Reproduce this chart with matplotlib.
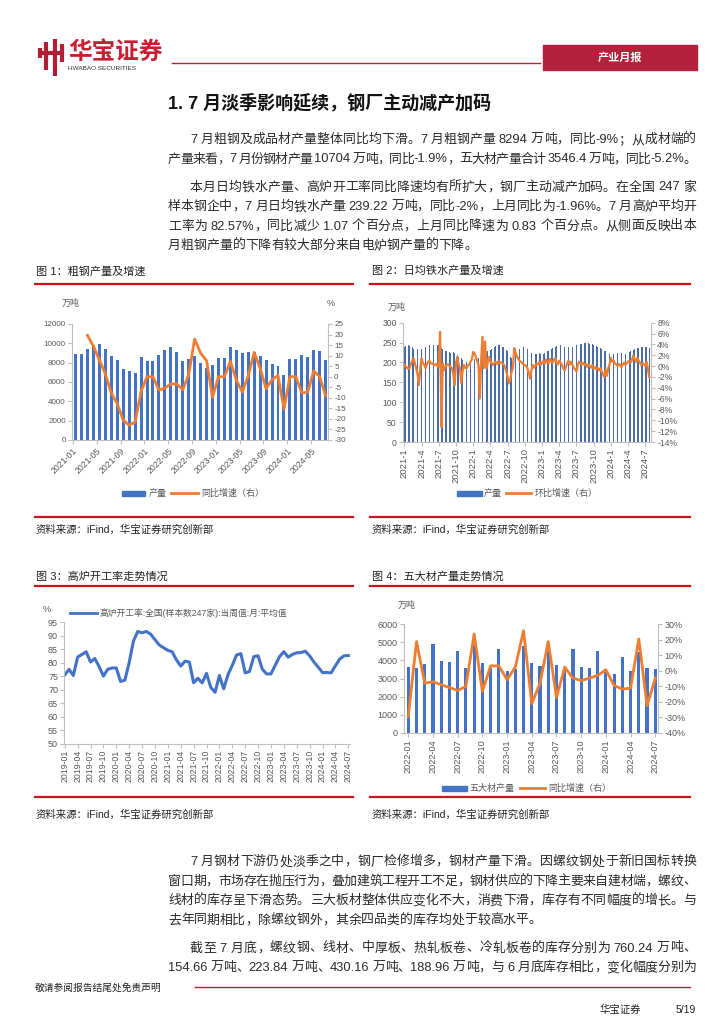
import numpy as np
import matplotlib.pyplot as plt
from matplotlib.lines import Line2D
from matplotlib.patches import Rectangle
from matplotlib.font_manager import FontProperties

plt.rcParams['font.family'] = ['Liberation Sans', 'Noto Sans CJK SC', 'DejaVu Sans']
plt.rcParams['axes.unicode_minus'] = False

# ---- data ----
# fig 1: crude steel output (万吨) 2021-01..2024-07 and yoy (%) from 2021-03
steel_prod = [8900, 8900, 9402, 9785, 9945, 9388, 8679, 8324, 7375, 7158, 6931, 8618,
              8205, 8205, 8830, 9278, 9661, 9073, 8143, 8370, 8695, 7950, 7450, 7790,
              8436, 8436, 9573, 9264, 9012, 9111, 9080, 8641, 8255, 7909, 7610, 6744,
              8398, 8398, 8827, 8594, 9286, 9161, 8294]
steel_yoy = [19.6, 14.4, 8.0, 1.3, -7.7, -12.8, -20.6, -23.0, -21.5, -7.0,
             0, 0, -6.3, -5.4, -3.4, -3.4, -6.2, 1.0, 17.8, 11.2, 7.6, -9.8,
             0, 0, 7.3, -1.5, -7.3, 0.4, 11.5, 4.0, -5.7, -1.4, 0.6, -15.3,
             0, 0, -7.7, -7.3, 2.8, 0, -9.0]
steel_labels = ['2021-01', '2021-05', '2021-09', '2022-01', '2022-05', '2022-09',
                '2023-01', '2023-05', '2023-09', '2024-01', '2024-05']

# fig 2: weekly daily hot metal output (万吨) and wow change (%)
iron_prod = [240, 242, 243, 244, 242, 240, 238, 235, 233, 232, 234, 236, 235,
             234, 236, 238, 240, 241, 242, 243, 244, 245, 244, 243, 242, 243,
             244, 243, 236, 233, 231, 230, 229, 228, 226, 225, 226, 227, 225,
             222, 218, 215, 212, 210, 206, 203, 201, 200, 199, 200, 201, 203,
             205, 208, 210, 209, 212, 208, 214, 218, 220, 222, 225, 228, 230,
             232, 235, 238, 240, 241, 242, 243, 244, 242, 240, 238, 236, 232,
             228, 222, 215, 210, 208, 212, 218, 225, 230, 235, 238, 239, 240,
             238, 236, 233, 230, 228, 225, 224, 223, 222, 221, 222, 223, 221,
             220, 221, 223, 226, 228, 230, 232, 234, 236, 238, 240, 242, 243,
             244, 245, 244, 242, 240, 239, 238, 239, 240, 241, 240, 241, 242,
             243, 244, 245, 246, 246, 247, 248, 248, 247, 248, 247, 246, 246,
             245, 243, 241, 240, 238, 236, 234, 232, 230, 228, 226, 224, 222,
             222, 221, 222, 223, 224, 223, 222, 224, 223, 222, 221, 222, 223,
             224, 226, 228, 230, 232, 234, 235, 236, 237, 238, 238, 239, 239,
             240, 239, 238, 236]
iron_wow = [0.2, 0.0, -0.3, -0.5, -0.4, 0.3, 1.0, 1.4, 0.5, -0.4, -1.5, -3.5, -0.5,
            1.4, 0.6, 0.2, -0.4, 0.3, 0.8, 1.0, 0.5, 0.5, 0.3, 0.2, 0.4, 0.0,
            -0.1, 6.3, -11.2, 0.5, -0.8, -0.1, 0.2, 0.3, 0.1, -0.2, -0.4, -1.5, -3.5,
            0.5, 1.7, 0.3, -0.4, -3.2, -1.0, 0.2, -0.3, -0.4, 0.1, 0.3, 0.8, 1.2,
            2.6, 2.4, 1.7, 0.9, 0.2, -6.0, 1.0, 5.4, -0.4, 4.5, -0.4, 0.6, 1.7,
            0.9, 0.5, 0.2, 0.6, 0.8, 0.4, 0.9, 0.5, 0.7, 0.5, 0.3, -0.2, -1.0,
            -2.0, -3.2, -2.5, -1.0, -0.4, 3.3, 2.5, 1.8, 1.4, 1.0, 0.8, 0.6, 0.3,
            0.2, 0.0, -0.4, -1.2, -2.3, -0.8, 0.2, -0.3, 0.1, 0.4, 0.3, 0.8, 0.2,
            0.6, 1.0, 0.4, 1.2, 0.8, 0.5, 1.3, 0.9, 0.6, 1.1, 1.5, 0.7, 0.3,
            1.0, 0.6, 0.2, -0.4, -0.8, -0.2, 0.5, 1.0, 0.3, 0.8, 0.2, -0.3, -0.6,
            -1.0, 0.2, 0.8, 0.5, 0.3, 0.6, 0.2, 0.4, -0.1, 0.3, 0.0, -0.3, 0.2,
            -0.5, -0.2, -0.6, -0.3, -0.8, -0.4, -1.0, -1.5, -2.0, -0.6, -1.8, -0.4, 0.3,
            1.5, 0.8, 1.0, 0.5, 0.3, 0.0, 0.4, 0.2, -0.2, 0.3, 0.6, 0.2, 0.5,
            0.8, 1.0, 0.7, 1.2, 2.0, 1.2, 0.8, 1.5, 1.0, 0.6, 0.2, 0.5, 0.3,
            0.0, 0.8, -0.6, -2.0]
iron_labels = ['2021-1', '2021-4', '2021-7', '2021-10', '2022-1', '2022-4', '2022-7',
               '2022-10', '2023-1', '2023-4', '2023-7', '2023-10', '2024-1', '2024-4',
               '2024-7']

# fig 3: blast furnace utilisation (%) monthly 2019-01..2024-07
bf_rate = [75.4, 77.5, 75.2, 82.0, 83.0, 84.0, 80.2, 81.5, 78.5, 75.0, 77.5, 78.0,
           78.0, 73.0, 73.5, 80.0, 88.0, 91.5, 91.0, 91.5, 90.5, 88.5, 86.5, 85.5,
           84.5, 84.0, 81.0, 78.7, 80.5, 80.2, 72.5, 74.2, 72.5, 76.0, 70.8, 69.0,
           75.2, 70.3, 75.5, 79.0, 82.8, 83.3, 76.2, 76.7, 82.2, 82.5, 77.5, 75.8,
           75.8, 79.0, 82.2, 84.0, 82.0, 83.0, 83.6, 83.7, 84.2, 82.5, 80.2, 78.3,
           76.3, 76.3, 76.2, 78.8, 81.3, 82.5, 82.6]
bf_labels = ['2019-01', '2019-04', '2019-07', '2019-10', '2020-01', '2020-04', '2020-07',
             '2020-10', '2021-01', '2021-04', '2021-07', '2021-10', '2022-01', '2022-04',
             '2022-07', '2022-10', '2023-01', '2023-04', '2023-07', '2023-10', '2024-01',
             '2024-04', '2024-07']

# fig 4: five major products output (万吨) monthly 2022-01..2024-07 and yoy (%)
five_prod = [3660, 3560, 3780, 4900, 3970, 3930, 4530, 3600, 4840, 3840, 3600, 4630,
             3420, 3530, 4790, 3840, 3690, 4520, 3750, 3530, 4610, 3620, 3570, 4520,
             3510, 3250, 4190, 3420, 4440, 3570, 3546]
five_yoy = [-29.3, 18.7, -8.0, -7.1, -9.0, -10.8, -12.7, -10.1, 23.6, -13.3, 3.1, 3.1,
            -5.8, 2.3, 25.7, -21.2, -8.0, 18.7, -17.2, 2.3, -4.8, -6.3, -4.8, -3.0,
            0.5, -9.5, -11.8, -11.2, 20.4, -22.5, -4.8]
five_labels = ['2022-01', '2022-04', '2022-07', '2022-10', '2023-01', '2023-04',
               '2023-07', '2023-10', '2024-01', '2024-04', '2024-07']

para1 = ['7 月粗钢及成品材产量整体同比均下滑。7 月粗钢产量 8294 万吨，同比-9%；从成材端的',
         '产量来看，7 月份钢材产量 10704 万吨，同比-1.9%，五大材产量合计 3546.4 万吨，同比-5.2%。']
para2 = ['本月日均铁水产量、高炉开工率同比降速均有所扩大，钢厂主动减产加码。在全国 247 家',
         '样本钢企中，7 月日均铁水产量 239.22 万吨，同比-2%，上月同比为-1.96%。7 月高炉平均开',
         '工率为 82.57%，同比减少 1.07 个百分点，上月同比降速为 0.83 个百分点。从侧面反映出本',
         '月粗钢产量的下降有较大部分来自电炉钢产量的下降。']
para3 = ['7 月钢材下游仍处淡季之中，钢厂检修增多，钢材产量下滑。因螺纹钢处于新旧国标转换',
         '窗口期，市场存在抛压行为，叠加建筑工程开工不足，钢材供应的下降主要来自建材端，螺纹、',
         '线材的库存呈下滑态势。三大板材整体供应变化不大，消费下滑，库存有不同幅度的增长。与',
         '去年同期相比，除螺纹钢外，其余四品类的库存均处于较高水平。']
para4 = ['截至 7 月底，螺纹钢、线材、中厚板、热轧板卷、冷轧板卷的库存分别为 760.24 万吨、',
         '154.66 万吨、223.84 万吨、430.16 万吨、188.96 万吨，与 6 月底库存相比，变化幅度分别为']

BLUE = '#4472C4'
ORANGE = '#ED7D31'
RED = '#D0121B'
DARKRED = '#B01F35'
GREY = '#595959'

W, H = 724, 1024
fig = plt.figure(figsize=(W / 100, H / 100), dpi=100)
renderer = fig.canvas.get_renderer()


def fx(x):
    return x / W


def fy(y):
    return 1 - y / H


def ax_px(x0, y0, x1, y1):
    return fig.add_axes([fx(x0), fy(y1), (x1 - x0) / W, (y1 - y0) / H])


def hline(x0, x1, y, color, lw):
    fig.add_artist(Line2D([fx(x0), fx(x1)], [fy(y), fy(y)], color=color, lw=lw))


def txt(x, y, s, size=7, color=GREY, **kw):
    fig.text(fx(x), fy(y), s, fontsize=size, color=color, va='center', **kw)


# ---- header ----
for xs, ys in [([46, 46], [42, 70]), ([55, 55], [39, 76]), ([40, 64], [53, 53]),
               ([40, 40], [48, 58]), ([62, 62], [44, 62])]:
    fig.add_artist(Line2D([fx(v) for v in xs], [fy(v) for v in ys], color=DARKRED, lw=3,
                          solid_capstyle='butt'))
txt(68, 52, '华宝证券', size=17, color='#C81E32', weight='bold')
txt(68, 68, 'HWABAO SECURITIES', size=4.6, color='#333333')
hline(172, 540, 63, DARKRED, 1.0)
fig.add_artist(Rectangle((fx(543), fy(70)), 154 / W, 25 / H, color='#B4213A'))
txt(620, 57.5, '产业月报', size=8, color='white', ha='center', weight='bold')

txt(168, 103, '1. 7 月淡季影响延续，钢厂主动减产加码', size=13, color='#111111', weight='bold')

# ---- body text, justified ----
body_fp = FontProperties(family=['Liberation Sans', 'Noto Sans CJK SC'], size=9.3)
space_w = 3.4


def tokens(s):
    out, buf = [], ''
    for ch in s:
        if ch == ' ':
            if buf:
                out.append(buf)
                buf = ''
            out.append(None)
        elif ord(ch) < 128:
            buf += ch
        else:
            if buf:
                out.append(buf)
                buf = ''
            out.append(ch)
    if buf:
        out.append(buf)
    return out


def body_line(s, x0, y, x1=None):
    toks = tokens(s)
    widths = [space_w if t is None else
              renderer.get_text_width_height_descent(t, body_fp, ismath=False)[0] for t in toks]
    extra = 0
    if len(toks) > 1 and (x1 is not None or x0 + sum(widths) > 696):
        extra = (696 - x0 - sum(widths)) / (len(toks) - 1)
    x = x0
    for t, w in zip(toks, widths):
        if t is not None:
            fig.text(fx(x), fy(y), t, fontproperties=body_fp, va='center', ha='left',
                     color='#2A2A2A')
        x += w + extra


def paragraph(lines, y0, step=19.5):
    for i, s in enumerate(lines):
        x0 = 190 if i == 0 else 168
        x1 = 696 if i < len(lines) - 1 else None
        body_line(s, x0, y0 + i * step, x1)


paragraph(para1, 140)
paragraph(para2, 187.5)
paragraph(para3, 862)
paragraph(para4, 948.5)

# ---- captions and rules ----
for x, y, s in [(36, 271, '图 1：粗钢产量及增速'), (372, 271, '图 2：日均铁水产量及增速'),
                (36, 577, '图 3：高炉开工率走势情况'), (372, 577, '图 4：五大材产量走势情况')]:
    txt(x, y, s, size=8, color='#222222')
for y in [284, 586, 517, 797]:
    hline(35, 353, y, RED, 1.6)
    hline(370, 690, y, RED, 1.6)
for x, y in [(36, 530), (372, 530), (36, 815), (372, 815)]:
    txt(x, y, '资料来源：iFind，华宝证券研究创新部', size=7.5, color='#222222')


def style(ax, sides):
    for s in ['top', 'right', 'left', 'bottom']:
        ax.spines[s].set_visible(s in sides)
        ax.spines[s].set_color('#BFBFBF')
        ax.spines[s].set_linewidth(0.8)
    ax.tick_params(colors='#BFBFBF', labelcolor=GREY, length=3, width=0.8, pad=1.5)
    ax.patch.set_alpha(0)


# ---- fig 1 ----
ax1 = ax_px(72, 324, 328, 440)
x1 = np.arange(len(steel_prod))
ax1.bar(x1, steel_prod, width=0.5, color=BLUE)
ax1.set_xlim(-0.6, 42.4)
ax1.set_ylim(0, 12000)
ax1.set_yticks(range(0, 12001, 2000))
ax1.set_xticks(np.arange(0, 41, 4) - 0.45)
ax1.set_xticklabels(steel_labels, rotation=45, ha='right', rotation_mode='anchor', fontsize=6.3)
ax1.tick_params(axis='y', labelsize=5.8)
style(ax1, ['left', 'bottom'])
ax1b = ax1.twinx()
ax1b.plot(x1[2:], steel_yoy, color=ORANGE, lw=2)
ax1b.set_ylim(-30, 25)
ax1b.set_yticks(range(-30, 26, 5))
ax1b.tick_params(axis='y', labelsize=5.8)
style(ax1b, ['right'])
txt(71, 303, '万吨', size=6.5, ha='center')
txt(331, 303, '%', size=6.5, ha='center')
fig.add_artist(Rectangle((fx(122), fy(495.5)), 23 / W, 5 / H, color=BLUE))
txt(149, 493, '产量', size=6.5)
hline(171, 198, 493, ORANGE, 2)
txt(201, 493, '同比增速（右）', size=6.5)

# ---- fig 2 ----
ax2 = ax_px(403, 322.7, 651, 442)
x2 = np.arange(len(iron_prod))
ax2.bar(x2, iron_prod, width=0.38, color='#4A6DA8')
ax2.set_xlim(-1, 186.3)
ax2.set_ylim(0, 300)
ax2.set_yticks(range(0, 301, 50))
ax2.set_xticks(np.arange(0, 183, 13))
ax2.set_xticklabels(iron_labels, rotation=90, fontsize=6.8)
ax2.tick_params(axis='y', labelsize=6.2)
style(ax2, ['left', 'bottom'])
ax2b = ax2.twinx()
ax2b.plot(x2, iron_wow, color=ORANGE, lw=1.6)
ax2b.set_ylim(-14, 8)
ax2b.set_yticks(range(-14, 9, 2))
ax2b.set_yticklabels([f'{v}%' for v in range(-14, 9, 2)])
ax2b.tick_params(axis='y', labelsize=6.2)
style(ax2b, ['right'])
txt(397, 307, '万吨', size=6.5, ha='center')
fig.add_artist(Rectangle((fx(457), fy(495.5)), 25 / W, 5 / H, color=BLUE))
txt(484, 493, '产量', size=6.5)
hline(506, 531, 493, ORANGE, 2)
txt(535, 493, '环比增速（右）', size=6.5)

# ---- fig 3 ----
ax3 = ax_px(64.3, 622, 350, 743.7)
x3 = np.arange(len(bf_rate))
ax3.plot(x3, bf_rate, color=BLUE, lw=2.2)
ax3.set_xlim(-0.1, 66.4)
ax3.set_ylim(50, 95)
ax3.set_yticks(range(50, 96, 5))
ax3.set_xticks(np.arange(0, 67, 3))
ax3.set_xticklabels(bf_labels, rotation=90, fontsize=6.3)
ax3.tick_params(axis='y', labelsize=6.5)
style(ax3, ['left', 'bottom'])
txt(47, 610, '%', size=6.5, ha='center')
hline(70, 97, 613, BLUE, 2)
txt(99, 613, '高炉开工率:全国(样本数247家):当周值:月:平均值', size=6.3)

# ---- fig 4 ----
ax4 = ax_px(404, 624, 658, 733)
x4 = np.arange(len(five_prod))
ax4.bar(x4, five_prod, width=0.38, color=BLUE)
ax4.set_xlim(-0.52, 30.33)
ax4.set_ylim(0, 6000)
ax4.set_yticks(range(0, 6001, 1000))
ax4.set_xticks(np.arange(0, 31, 3))
ax4.set_xticklabels(five_labels, rotation=90, fontsize=6.6)
ax4.tick_params(axis='y', labelsize=6.5)
style(ax4, ['left', 'bottom'])
ax4b = ax4.twinx()
ax4b.plot(x4, five_yoy, color=ORANGE, lw=2)
ax4b.set_ylim(-40, 30)
ax4b.set_yticks(range(-40, 31, 10))
ax4b.set_yticklabels([f'{v}%' for v in range(-40, 31, 10)])
ax4b.tick_params(axis='y', labelsize=6.5)
style(ax4b, ['right'])
txt(407, 605, '万吨', size=6.5, ha='center')
fig.add_artist(Rectangle((fx(442), fy(790.5)), 25 / W, 5 / H, color=BLUE))
txt(470, 788, '五大材产量', size=6.5)
hline(520, 545, 788, ORANGE, 2)
txt(548, 788, '同比增速（右）', size=6.5)

# ---- footer ----
txt(35, 988, '敬请参阅报告结尾处免责声明', size=7, color='#222222')
hline(195, 690, 987, DARKRED, 1.0)
txt(600, 1010, '华宝证券', size=7.5, color='#222222')
txt(676, 1010, '5/19', size=7.5, color='#222222')

fig.savefig('out.png', dpi=100)
